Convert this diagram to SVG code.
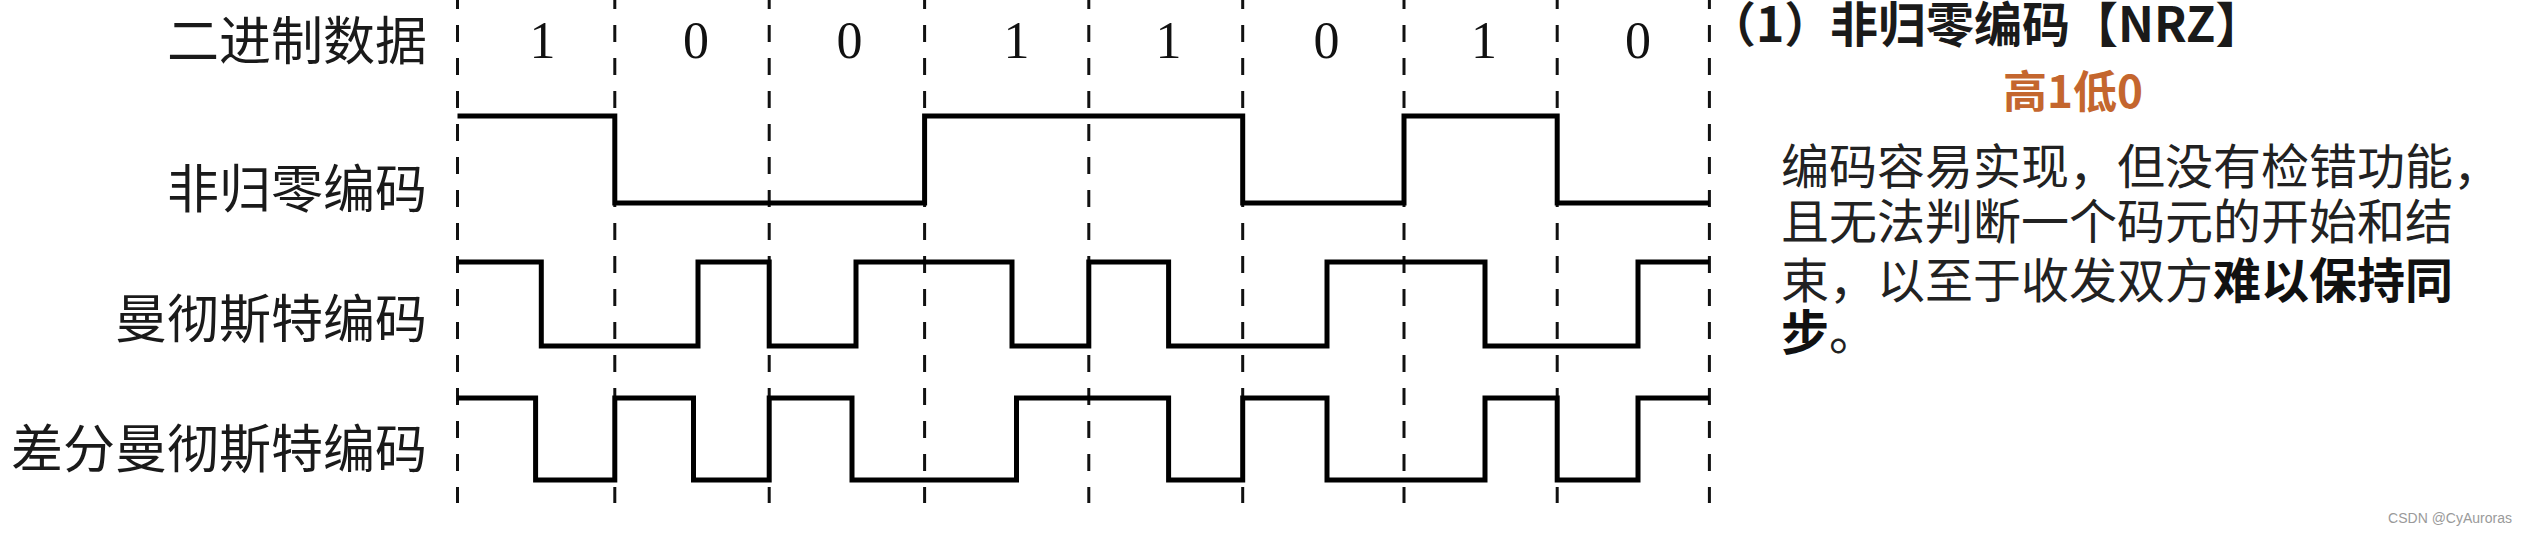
<svg xmlns="http://www.w3.org/2000/svg" width="2527" height="534" viewBox="0 0 2527 534">
<style>
.lbl{font-family:'Noto Sans CJK SC','Noto Sans',sans-serif;font-size:52px;fill:#1a1a1a;text-anchor:end}
.bit{font-family:'Liberation Serif','Times New Roman',serif;font-size:52px;fill:#111;text-anchor:middle}
.grid{stroke:#111;stroke-width:3;stroke-dasharray:17 16;stroke-dashoffset:8;fill:none}
.wave{fill:none;stroke:#000;stroke-width:5;stroke-linejoin:miter;stroke-linecap:butt}
.title{font-family:'Noto Sans CJK SC','Noto Sans',sans-serif;font-size:48px;font-weight:bold;fill:#1a1a1a}
.hl{font-family:'Noto Sans CJK SC','Noto Sans',sans-serif;font-size:44px;font-weight:bold;fill:#C4662E}
.body{font-family:'Noto Sans CJK SC','Noto Sans',sans-serif;font-size:48px;fill:#222}
.b{font-weight:bold;fill:#111}
.wm{font-family:'Liberation Sans',Arial,sans-serif;font-size:14px;fill:#9a9a9a;text-anchor:end}
</style>
<rect width="2527" height="534" fill="#fff"/>
<g id="connectors">
  <g id="grid">
    <line class="grid" x1="457.5" y1="0" x2="457.5" y2="503"/>
    <line class="grid" x1="614.8" y1="0" x2="614.8" y2="503"/>
    <line class="grid" x1="769.2" y1="0" x2="769.2" y2="503"/>
    <line class="grid" x1="924.6" y1="0" x2="924.6" y2="503"/>
    <line class="grid" x1="1088.8" y1="0" x2="1088.8" y2="503"/>
    <line class="grid" x1="1242.7" y1="0" x2="1242.7" y2="503"/>
    <line class="grid" x1="1404" y1="0" x2="1404" y2="503"/>
    <line class="grid" x1="1557.2" y1="0" x2="1557.2" y2="503"/>
    <line class="grid" x1="1709.4" y1="0" x2="1709.4" y2="503"/>
  </g>
  <path id="wave-nrz" class="wave" d="M457.5,116 H614.8 V203 H924.6 V116 H1242.7 V203 H1404 V116 H1557.2 V203 H1709.4"/>
  <path id="wave-manchester" class="wave" d="M457.5,262 H541.3 V346 H698 V262 H769.2 V346 H856 V262 H1012 V346 H1088.8 V262 H1168.6 V346 H1327 V262 H1485 V346 H1638 V262 H1709.4"/>
  <path id="wave-diff" class="wave" d="M457.5,398 H535.6 V480 H614.8 V398 H693.5 V480 H769.2 V398 H852 V480 H1016.5 V398 H1168.6 V480 H1242.7 V398 H1327 V480 H1485 V398 H1557.2 V480 H1638 V398 H1709.4"/>
</g>
<g id="row-labels">
  <text class="lbl" x="427" y="60">二进制数据</text>
  <text class="lbl" x="427" y="208">非归零编码</text>
  <text class="lbl" x="427" y="338">曼彻斯特编码</text>
  <text class="lbl" x="427" y="468">差分曼彻斯特编码</text>
</g>
<g id="bits">
  <text class="bit" x="542.5" y="58">1</text>
  <text class="bit" x="696" y="58">0</text>
  <text class="bit" x="849.6" y="58">0</text>
  <text class="bit" x="1016.5" y="58">1</text>
  <text class="bit" x="1168.6" y="58">1</text>
  <text class="bit" x="1326.5" y="58">0</text>
  <text class="bit" x="1484" y="58">1</text>
  <text class="bit" x="1638" y="58">0</text>
</g>
<g id="notes">
  <text class="title" y="42"><tspan x="1708">（1）</tspan><tspan x="1830">非归零编码</tspan><tspan x="2070">【NRZ】</tspan></text>
  <text class="hl" x="2003" y="108">高1低0</text>
  <text class="body" x="1781" y="184">编码容易实现，但没有检错功能，</text>
  <text class="body" x="1781" y="239">且无法判断一个码元的开始和结</text>
  <text class="body" x="1781" y="298">束，以至于收发双方<tspan class="b">难以保持同</tspan></text>
  <text class="body" x="1781" y="350"><tspan class="b">步</tspan>。</text>
</g>
<text class="wm" x="2512" y="523">CSDN @CyAuroras</text>
</svg>
